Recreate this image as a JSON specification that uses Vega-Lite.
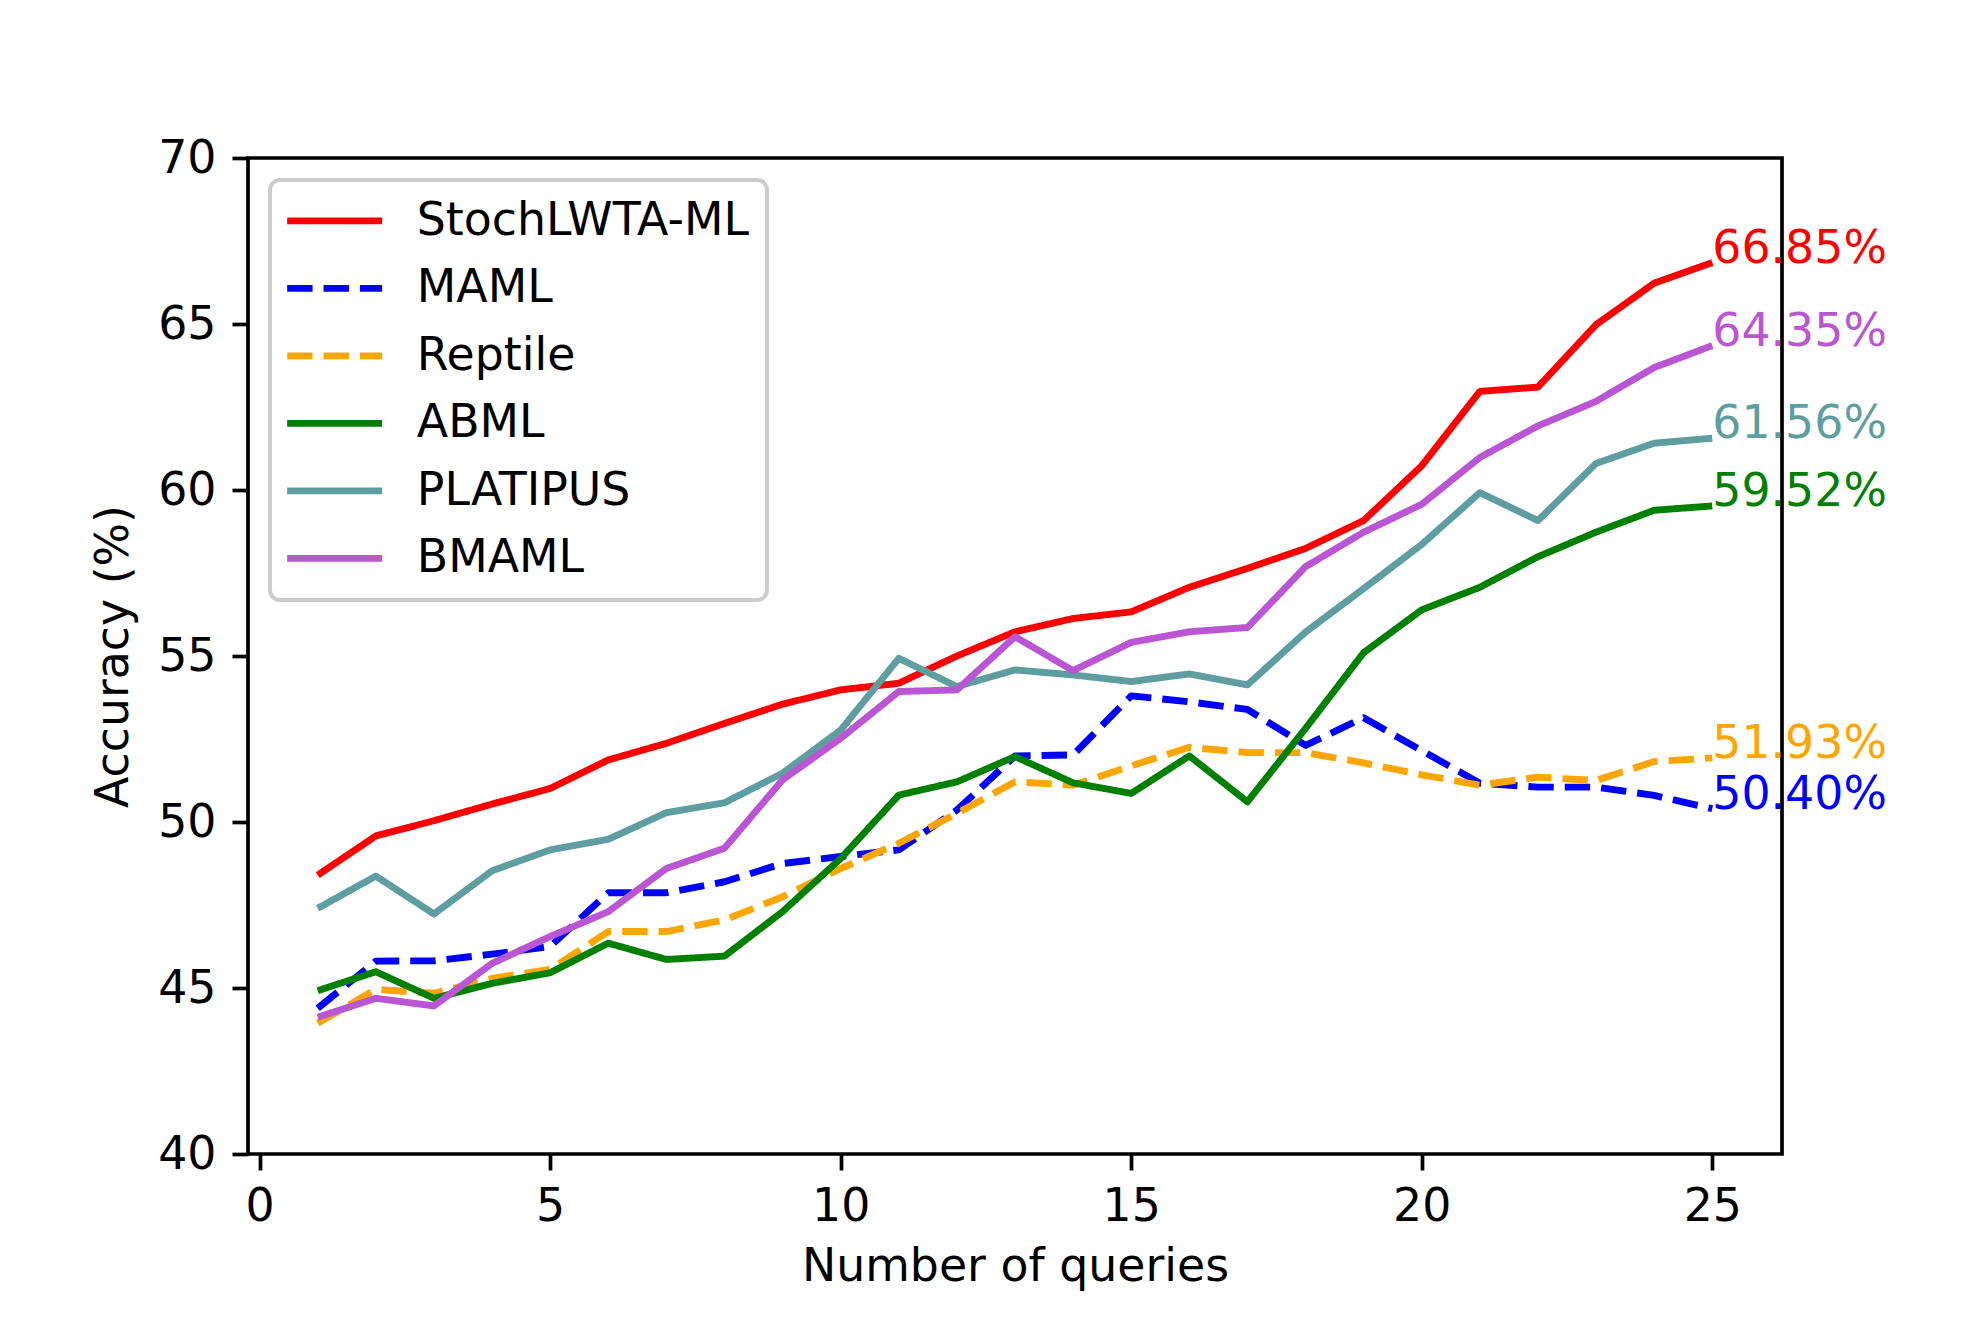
{
  "$schema": "https://vega.github.io/schema/vega-lite/v6.json",
  "width": 1534,
  "height": 996,
  "autosize": {"type": "none"},
  "padding": {"left": 248, "top": 158, "right": 198, "bottom": 166},
  "background": "white",
  "datasets": {
    "acc": [
      {"queries":1,"method":"StochLWTA-ML","accuracy":48.40},{"queries":2,"method":"StochLWTA-ML","accuracy":49.58},{"queries":3,"method":"StochLWTA-ML","accuracy":50.04},{"queries":4,"method":"StochLWTA-ML","accuracy":50.54},{"queries":5,"method":"StochLWTA-ML","accuracy":51.01},{"queries":6,"method":"StochLWTA-ML","accuracy":51.87},{"queries":7,"method":"StochLWTA-ML","accuracy":52.37},{"queries":8,"method":"StochLWTA-ML","accuracy":52.97},{"queries":9,"method":"StochLWTA-ML","accuracy":53.55},{"queries":10,"method":"StochLWTA-ML","accuracy":53.98},{"queries":11,"method":"StochLWTA-ML","accuracy":54.18},{"queries":12,"method":"StochLWTA-ML","accuracy":55.00},{"queries":13,"method":"StochLWTA-ML","accuracy":55.73},{"queries":14,"method":"StochLWTA-ML","accuracy":56.13},{"queries":15,"method":"StochLWTA-ML","accuracy":56.33},{"queries":16,"method":"StochLWTA-ML","accuracy":57.07},{"queries":17,"method":"StochLWTA-ML","accuracy":57.64},{"queries":18,"method":"StochLWTA-ML","accuracy":58.24},{"queries":19,"method":"StochLWTA-ML","accuracy":59.08},{"queries":20,"method":"StochLWTA-ML","accuracy":60.73},{"queries":21,"method":"StochLWTA-ML","accuracy":62.97},{"queries":22,"method":"StochLWTA-ML","accuracy":63.10},{"queries":23,"method":"StochLWTA-ML","accuracy":64.98},{"queries":24,"method":"StochLWTA-ML","accuracy":66.23},{"queries":25,"method":"StochLWTA-ML","accuracy":66.85},
      {"queries":1,"method":"MAML","accuracy":44.39},{"queries":2,"method":"MAML","accuracy":45.81},{"queries":3,"method":"MAML","accuracy":45.82},{"queries":4,"method":"MAML","accuracy":46.02},{"queries":5,"method":"MAML","accuracy":46.25},{"queries":6,"method":"MAML","accuracy":47.87},{"queries":7,"method":"MAML","accuracy":47.87},{"queries":8,"method":"MAML","accuracy":48.20},{"queries":9,"method":"MAML","accuracy":48.75},{"queries":10,"method":"MAML","accuracy":48.96},{"queries":11,"method":"MAML","accuracy":49.16},{"queries":12,"method":"MAML","accuracy":50.36},{"queries":13,"method":"MAML","accuracy":51.99},{"queries":14,"method":"MAML","accuracy":52.02},{"queries":15,"method":"MAML","accuracy":53.80},{"queries":16,"method":"MAML","accuracy":53.62},{"queries":17,"method":"MAML","accuracy":53.39},{"queries":18,"method":"MAML","accuracy":52.31},{"queries":19,"method":"MAML","accuracy":53.14},{"queries":20,"method":"MAML","accuracy":52.15},{"queries":21,"method":"MAML","accuracy":51.17},{"queries":22,"method":"MAML","accuracy":51.05},{"queries":23,"method":"MAML","accuracy":51.05},{"queries":24,"method":"MAML","accuracy":50.80},{"queries":25,"method":"MAML","accuracy":50.40},
      {"queries":1,"method":"Reptile","accuracy":43.94},{"queries":2,"method":"Reptile","accuracy":44.96},{"queries":3,"method":"Reptile","accuracy":44.84},{"queries":4,"method":"Reptile","accuracy":45.29},{"queries":5,"method":"Reptile","accuracy":45.56},{"queries":6,"method":"Reptile","accuracy":46.70},{"queries":7,"method":"Reptile","accuracy":46.70},{"queries":8,"method":"Reptile","accuracy":47.05},{"queries":9,"method":"Reptile","accuracy":47.75},{"queries":10,"method":"Reptile","accuracy":48.60},{"queries":11,"method":"Reptile","accuracy":49.36},{"queries":12,"method":"Reptile","accuracy":50.26},{"queries":13,"method":"Reptile","accuracy":51.21},{"queries":14,"method":"Reptile","accuracy":51.11},{"queries":15,"method":"Reptile","accuracy":51.69},{"queries":16,"method":"Reptile","accuracy":52.25},{"queries":17,"method":"Reptile","accuracy":52.09},{"queries":18,"method":"Reptile","accuracy":52.09},{"queries":19,"method":"Reptile","accuracy":51.78},{"queries":20,"method":"Reptile","accuracy":51.42},{"queries":21,"method":"Reptile","accuracy":51.11},{"queries":22,"method":"Reptile","accuracy":51.35},{"queries":23,"method":"Reptile","accuracy":51.25},{"queries":24,"method":"Reptile","accuracy":51.82},{"queries":25,"method":"Reptile","accuracy":51.93},
      {"queries":1,"method":"ABML","accuracy":44.92},{"queries":2,"method":"ABML","accuracy":45.49},{"queries":3,"method":"ABML","accuracy":44.69},{"queries":4,"method":"ABML","accuracy":45.14},{"queries":5,"method":"ABML","accuracy":45.46},{"queries":6,"method":"ABML","accuracy":46.35},{"queries":7,"method":"ABML","accuracy":45.86},{"queries":8,"method":"ABML","accuracy":45.96},{"queries":9,"method":"ABML","accuracy":47.30},{"queries":10,"method":"ABML","accuracy":48.90},{"queries":11,"method":"ABML","accuracy":50.81},{"queries":12,"method":"ABML","accuracy":51.21},{"queries":13,"method":"ABML","accuracy":51.97},{"queries":14,"method":"ABML","accuracy":51.18},{"queries":15,"method":"ABML","accuracy":50.86},{"queries":16,"method":"ABML","accuracy":51.99},{"queries":17,"method":"ABML","accuracy":50.61},{"queries":18,"method":"ABML","accuracy":52.82},{"queries":19,"method":"ABML","accuracy":55.10},{"queries":20,"method":"ABML","accuracy":56.39},{"queries":21,"method":"ABML","accuracy":57.07},{"queries":22,"method":"ABML","accuracy":57.99},{"queries":23,"method":"ABML","accuracy":58.73},{"queries":24,"method":"ABML","accuracy":59.39},{"queries":25,"method":"ABML","accuracy":59.52},
      {"queries":1,"method":"PLATIPUS","accuracy":47.40},{"queries":2,"method":"PLATIPUS","accuracy":48.37},{"queries":3,"method":"PLATIPUS","accuracy":47.23},{"queries":4,"method":"PLATIPUS","accuracy":48.53},{"queries":5,"method":"PLATIPUS","accuracy":49.16},{"queries":6,"method":"PLATIPUS","accuracy":49.48},{"queries":7,"method":"PLATIPUS","accuracy":50.28},{"queries":8,"method":"PLATIPUS","accuracy":50.58},{"queries":9,"method":"PLATIPUS","accuracy":51.47},{"queries":10,"method":"PLATIPUS","accuracy":52.77},{"queries":11,"method":"PLATIPUS","accuracy":54.93},{"queries":12,"method":"PLATIPUS","accuracy":54.08},{"queries":13,"method":"PLATIPUS","accuracy":54.58},{"queries":14,"method":"PLATIPUS","accuracy":54.43},{"queries":15,"method":"PLATIPUS","accuracy":54.23},{"queries":16,"method":"PLATIPUS","accuracy":54.46},{"queries":17,"method":"PLATIPUS","accuracy":54.13},{"queries":18,"method":"PLATIPUS","accuracy":55.72},{"queries":19,"method":"PLATIPUS","accuracy":57.03},{"queries":20,"method":"PLATIPUS","accuracy":58.36},{"queries":21,"method":"PLATIPUS","accuracy":59.92},{"queries":22,"method":"PLATIPUS","accuracy":59.08},{"queries":23,"method":"PLATIPUS","accuracy":60.80},{"queries":24,"method":"PLATIPUS","accuracy":61.41},{"queries":25,"method":"PLATIPUS","accuracy":61.56},
      {"queries":1,"method":"BMAML","accuracy":44.12},{"queries":2,"method":"BMAML","accuracy":44.69},{"queries":3,"method":"BMAML","accuracy":44.46},{"queries":4,"method":"BMAML","accuracy":45.74},{"queries":5,"method":"BMAML","accuracy":46.55},{"queries":6,"method":"BMAML","accuracy":47.30},{"queries":7,"method":"BMAML","accuracy":48.60},{"queries":8,"method":"BMAML","accuracy":49.21},{"queries":9,"method":"BMAML","accuracy":51.27},{"queries":10,"method":"BMAML","accuracy":52.52},{"queries":11,"method":"BMAML","accuracy":53.93},{"queries":12,"method":"BMAML","accuracy":53.98},{"queries":13,"method":"BMAML","accuracy":55.58},{"queries":14,"method":"BMAML","accuracy":54.56},{"queries":15,"method":"BMAML","accuracy":55.41},{"queries":16,"method":"BMAML","accuracy":55.73},{"queries":17,"method":"BMAML","accuracy":55.86},{"queries":18,"method":"BMAML","accuracy":57.69},{"queries":19,"method":"BMAML","accuracy":58.73},{"queries":20,"method":"BMAML","accuracy":59.57},{"queries":21,"method":"BMAML","accuracy":60.98},{"queries":22,"method":"BMAML","accuracy":61.93},{"queries":23,"method":"BMAML","accuracy":62.67},{"queries":24,"method":"BMAML","accuracy":63.69},{"queries":25,"method":"BMAML","accuracy":64.35}
    ],
    "labels": [
      {"queries":25,"method":"StochLWTA-ML","accuracy":66.85,"label":"66.85%"},
      {"queries":25,"method":"MAML","accuracy":50.40,"label":"50.40%"},
      {"queries":25,"method":"Reptile","accuracy":51.93,"label":"51.93%"},
      {"queries":25,"method":"ABML","accuracy":59.52,"label":"59.52%"},
      {"queries":25,"method":"PLATIPUS","accuracy":61.56,"label":"61.56%"},
      {"queries":25,"method":"BMAML","accuracy":64.35,"label":"64.35%"}
    ]
  },
  "layer": [
    {
      "data": {"name": "acc"},
      "mark": {"type": "line", "strokeWidth": 6.9, "strokeJoin": "round", "strokeCap": "butt"},
      "encoding": {
        "x": {"field": "queries", "type": "quantitative", "title": "Number of queries",
              "scale": {"domain": [-0.2, 26.2], "nice": false, "zero": false},
              "axis": {"values": [0, 5, 10, 15, 20, 25], "format": "d"}},
        "y": {"field": "accuracy", "type": "quantitative", "title": "Accuracy (%)",
              "scale": {"domain": [40, 70], "nice": false, "zero": false},
              "axis": {"values": [40, 45, 50, 55, 60, 65, 70], "format": "d"}},
        "color": {"field": "method", "type": "nominal",
                  "scale": {"domain": ["StochLWTA-ML", "MAML", "Reptile", "ABML", "PLATIPUS", "BMAML"],
                            "range": ["#ff0000", "#0000ff", "#ffa500", "#008000", "#5f9ea0", "#ba55d3"]},
                  "legend": {"title": null}},
        "strokeDash": {"field": "method", "type": "nominal",
                       "scale": {"domain": ["StochLWTA-ML", "MAML", "Reptile", "ABML", "PLATIPUS", "BMAML"],
                                 "range": [[1, 0], [25.4, 11], [25.4, 11], [1, 0], [1, 0], [1, 0]]},
                       "legend": {"title": null}}
      }
    },
    {
      "data": {"name": "labels"},
      "mark": {"type": "text", "align": "left", "baseline": "alphabetic", "fontSize": 45.8, "font": "DejaVu Sans"},
      "encoding": {
        "x": {"field": "queries", "type": "quantitative"},
        "y": {"field": "accuracy", "type": "quantitative"},
        "text": {"field": "label", "type": "nominal"},
        "color": {"field": "method", "type": "nominal", "legend": null}
      }
    }
  ],
  "config": {
    "font": "DejaVu Sans",
    "view": {"stroke": "black", "strokeWidth": 3.7},
    "axis": {
      "domain": false,
      "grid": false,
      "ticks": true,
      "tickColor": "black",
      "tickSize": 16,
      "tickWidth": 3.7,
      "labelFont": "DejaVu Sans",
      "labelFontSize": 45.8,
      "labelColor": "black",
      "labelPadding": 14,
      "titleFont": "DejaVu Sans",
      "titleFontSize": 45.8,
      "titleFontWeight": "normal",
      "titleColor": "black",
      "titlePadding": 16
    },
    "axisY": {"labelPadding": 16, "titlePadding": 20},
    "legend": {
      "orient": "top-left",
      "offset": 22,
      "padding": 18,
      "strokeColor": "#cccccc",
      "strokeWidth": 4,
      "fillColor": "rgba(255,255,255,0.8)",
      "cornerRadius": 10,
      "symbolType": "M-1.25,0H3.75",
      "symbolSize": 1444,
      "symbolStrokeWidth": 6.9,
      "labelFont": "DejaVu Sans",
      "labelFontSize": 45.8,
      "labelColor": "black",
      "labelOffset": 83,
      "labelLimit": 1000,
      "rowPadding": 20.5
    }
  }
}
